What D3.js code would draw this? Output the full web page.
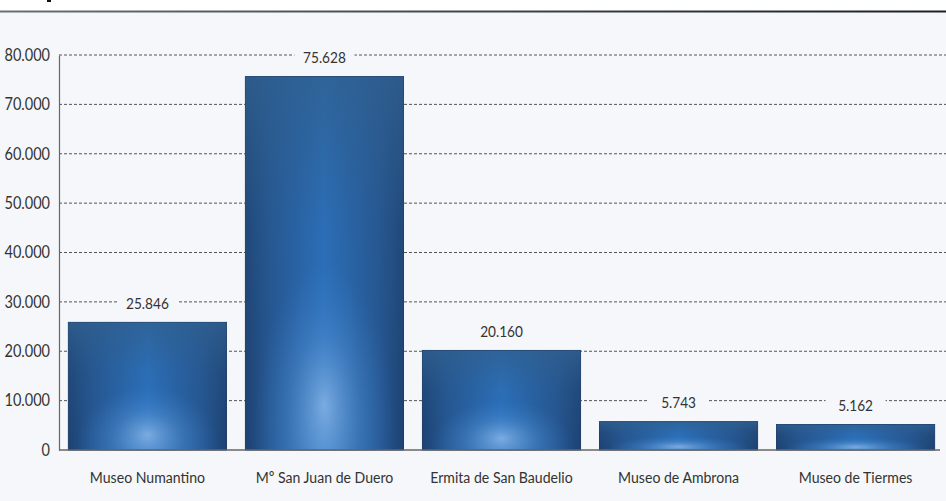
<!DOCTYPE html>
<html><head><meta charset="utf-8">
<script src="https://cdn.jsdelivr.net/npm/d3@7"></script>
<style>
html,body{margin:0;padding:0;background:#fff;}
svg{display:block;}
</style></head>
<body>
<svg id="c" width="946" height="501"></svg>
<script>
const categories = ["Museo Numantino","Mº San Juan de Duero","Ermita de San Baudelio","Museo de Ambrona","Museo de Tiermes"];
const visitors = [25846, 75628, 20160, 5743, 5162];
const yTicks = [0,10000,20000,30000,40000,50000,60000,70000,80000];

const W=946,H=501;
const m={left:59,right:2,top:55,bottom:51};
const svg=d3.select("#c");
const fmt=d3.formatLocale({decimal:",",thousands:".",grouping:[3],currency:["",""]}).format(",d");
const FONT="Lato, 'Open Sans', sans-serif";
const SX=0.88;

const defs=svg.append("defs");
const hg=defs.append("linearGradient").attr("id","hg").attr("x1",0).attr("x2",1).attr("y1",0).attr("y2",0);
[[0,"#1d4272"],[0.15,"#245590"],[0.5,"#2b73c2"],[0.85,"#245590"],[1,"#1d4272"]].forEach(s=>hg.append("stop").attr("offset",s[0]).attr("stop-color",s[1]));
const vg=defs.append("linearGradient").attr("id","vg").attr("x1",0).attr("x2",0).attr("y1",0).attr("y2",1);
[[0,"#30608f",0.8],[0.4,"#2e5e90",0.25],[1,"#2c5a8c",0]].forEach(s=>vg.append("stop").attr("offset",s[0]).attr("stop-color",s[1]).attr("stop-opacity",s[2]));
const rg=defs.append("radialGradient").attr("id","rg").attr("cx",0.5).attr("cy",0.95).attr("r",0.45).attr("fx",0.5).attr("fy",0.88);
[[0,"#9cc4ee",0.7],[0.5,"#5b97d6",0.35],[1,"#3b7fcc",0]].forEach(s=>rg.append("stop").attr("offset",s[0]).attr("stop-color",s[1]).attr("stop-opacity",s[2]));

// background
svg.append("rect").attr("x",0).attr("y",12).attr("width",W).attr("height",H-12).attr("fill","#f5f7fa");
const tl=defs.append("linearGradient").attr("id","tl").attr("x1",0).attr("x2",1);
[[0,"#6a6f75"],[0.6,"#3a3d42"],[1,"#1e2024"]].forEach(s=>tl.append("stop").attr("offset",s[0]).attr("stop-color",s[1]));
svg.append("rect").attr("x",0).attr("y",10.5).attr("width",W).attr("height",2).attr("fill","url(#tl)");
svg.append("rect").attr("x",47).attr("y",0).attr("width",4).attr("height",2).attr("fill","#111");

const x=d3.scaleBand().domain(categories).range([m.left,W-m.right]).paddingInner(0.107).paddingOuter(0.053);
const y=d3.scaleLinear().domain([0,80000]).range([H-m.bottom,m.top]);

// gridlines
svg.append("g").selectAll("line").data(yTicks.filter(d=>d>0)).join("line")
  .attr("x1",m.left).attr("x2",W).attr("y1",d=>y(d)).attr("y2",d=>y(d))
  .attr("stroke","#555").attr("stroke-width",1).attr("stroke-dasharray","3,2");

// y axis
const ya=svg.append("g").attr("transform",`translate(${m.left},0)`)
  .call(d3.axisLeft(y).tickValues(yTicks).tickFormat(fmt).tickSize(0).tickPadding(0));
ya.select(".domain").attr("stroke","#666").attr("stroke-width",1.2);
ya.selectAll(".tick text").attr("x",null)
  .attr("transform",`translate(-9,0) scale(${SX},1)`)
  .attr("font-family",FONT).attr("font-size",16.5).attr("fill","#333");

// bars
const bars=svg.append("g").selectAll("g").data(categories).join("g");
["url(#hg)","url(#vg)","url(#rg)"].forEach((f,k)=>{
  const r=bars.append("rect").attr("x",d=>x(d)).attr("width",x.bandwidth())
    .attr("y",(d,i)=>y(visitors[i])).attr("height",(d,i)=>y(0)-y(visitors[i]))
    .attr("fill",f);
  if(k===0) r.attr("stroke","#1e3d68").attr("stroke-width",1);
});

// baseline
svg.append("line").attr("x1",m.left).attr("x2",940).attr("y1",y(0)).attr("y2",y(0)).attr("stroke","#666").attr("stroke-width",1.5);

// value labels
const lab=svg.append("g").selectAll("g").data(categories).join("g")
  .attr("transform",(d,i)=>`translate(${x(d)+x.bandwidth()/2},${y(visitors[i])-19})`);
lab.append("rect").attr("x",-30).attr("y",-9).attr("width",60).attr("height",18).attr("fill","#f5f7fa");
lab.append("text").attr("text-anchor","middle").attr("dy","0.35em").attr("transform",`scale(${SX},1)`)
  .attr("font-family",FONT).attr("font-size",15.5).attr("fill","#333")
  .text((d,i)=>fmt(visitors[i]));

// category labels
svg.append("g").selectAll("text").data(categories).join("text")
  .attr("transform",d=>`translate(${x(d)+x.bandwidth()/2},477) scale(${SX},1)`)
  .attr("dy","0.35em").attr("text-anchor","middle")
  .attr("font-family",FONT).attr("font-size",16).attr("fill","#333")
  .text(d=>d);
</script>
</body></html>
